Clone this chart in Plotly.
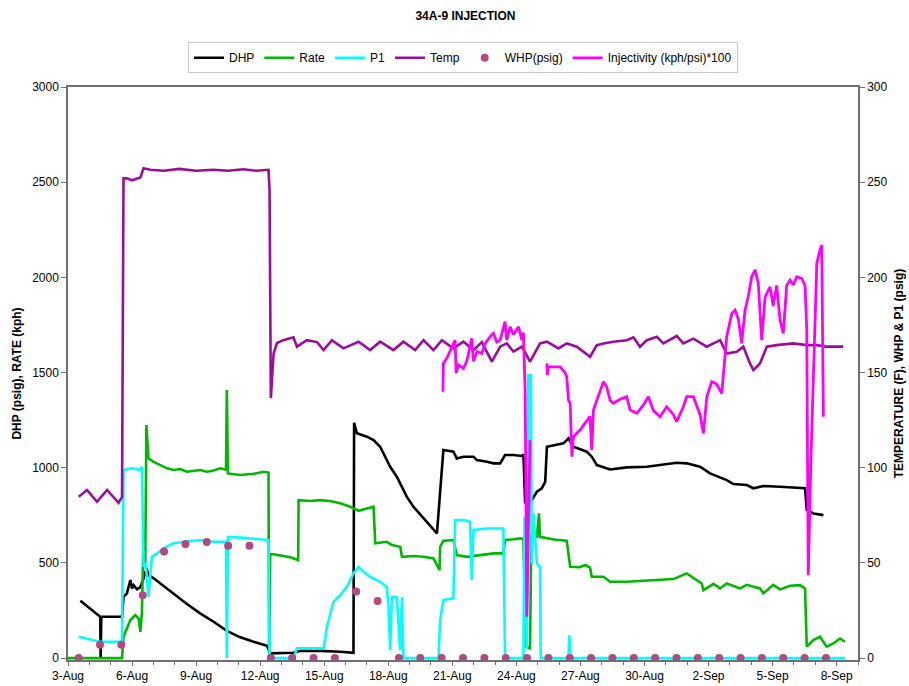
import pandas as pd
import plotly.graph_objects as go

START = pd.Timestamp("2008-08-03")
FONT = "Liberation Sans, Arial, sans-serif"

# ---- DHP (psig), left axis; x in days since 3-Aug ----
dhp_day = [0.58, 1.51, 1.53, 1.56, 2.53, 2.60, 2.76, 2.84, 2.92, 3.00, 3.07, 3.23, 3.39, 3.54,
           3.62, 3.70, 3.77, 4.01, 4.32, 4.94, 5.57, 6.19, 6.82, 7.44, 8.07, 8.69, 9.32, 9.47,
           9.94, 10.56, 10.88, 11.81, 12.75, 13.37, 13.40, 13.53, 14.00, 14.31, 14.62, 15.09,
           15.40, 15.56, 15.87, 16.18, 16.65, 17.12, 17.28, 17.58, 18.05, 18.21, 18.52, 18.99,
           19.15, 19.62, 19.93, 20.24, 20.47, 20.86, 21.26, 21.33, 21.41, 21.72, 21.96, 22.19,
           22.35, 22.43, 22.89, 23.20, 23.36, 23.44, 23.67, 24.30, 24.53, 24.77, 25.39, 26.17,
           27.11, 27.73, 28.51, 28.98, 29.60, 30.07, 30.85, 31.16, 31.79, 32.10, 32.57, 33.35,
           33.97, 34.52, 34.60, 34.91, 35.38]
dhp_val = [301, 217, 0, 217, 217, 322, 340, 375, 410, 366, 383, 361, 373, 419,
           453, 462, 436, 419, 392, 340, 284, 235, 191, 143, 109, 86, 65, 25,
           25, 28, 38, 38, 33, 28, 1236, 1181, 1163, 1145, 1110, 1005,
           953, 918, 847, 795, 734, 673, 655, 1093, 1084, 1049, 1058, 1058,
           1040, 1031, 1023, 1023, 1067, 1067, 1062, 1070, 820, 830, 874, 892,
           926, 1110, 1119, 1128, 1145, 1154, 1110, 1084, 1058, 1014, 991, 1002,
           1005, 1014, 1026, 1023, 1005, 970, 935, 914, 909, 892, 904, 900,
           897, 892, 778, 760, 751]

# ---- Rate (kph), left axis ----
rate_day = [0.0, 2.53, 2.60, 2.76, 2.92, 3.15, 3.31, 3.39, 3.46, 3.54, 3.62, 3.67, 3.77, 4.01,
            4.32, 4.64, 4.94, 5.26, 5.57, 5.88, 6.19, 6.51, 6.82, 7.13, 7.40, 7.44, 7.49, 8.07,
            8.69, 9.16, 9.39, 9.42, 9.47, 9.63, 9.94, 10.41, 10.78, 10.80, 11.34, 11.81, 12.28,
            12.75, 13.22, 13.61, 14.00, 14.31, 14.39, 14.93, 15.17, 15.56, 15.64, 16.18, 16.65,
            17.12, 17.40, 17.43, 17.58, 18.05, 18.21, 18.68, 19.30, 19.93, 20.39, 20.47, 20.86,
            21.18, 21.33, 21.45, 21.64, 21.70, 21.96, 22.06, 22.10, 22.43, 22.89, 23.05, 23.36,
            23.52, 23.98, 24.22, 24.45, 24.53, 25.08, 25.39, 26.17, 26.95, 27.73, 28.35, 28.98,
            29.45, 29.68, 29.76, 30.23, 30.54, 30.85, 31.48, 31.79, 32.41, 32.57, 33.03, 33.35,
            33.82, 34.28, 34.52, 34.60, 34.91, 35.22, 35.53, 35.84, 36.16, 36.39]
rate_val = [0, 0, 112, 156, 200, 226, 208, 138, 236, 655, 500, 1224, 1049, 1031,
            1014, 997, 988, 993, 979, 985, 988, 979, 985, 997, 990, 1408, 970, 962,
            968, 979, 975, 0, 550, 546, 541, 530, 515, 830, 825, 830, 825,
            813, 795, 774, 786, 795, 603, 611, 594, 585, 532, 536, 532,
            524, 462, 585, 616, 620, 541, 532, 541, 550, 550, 620, 624,
            629, 625, 60, 51, 640, 637, 760, 637, 629, 620, 620, 615,
            480, 478, 489, 475, 427, 427, 401, 401, 406, 410, 415, 445,
            410, 392, 357, 390, 366, 392, 366, 385, 366, 340, 385, 361,
            380, 383, 366, 60, 95, 112, 60, 77, 103, 86]

# ---- P1 (psig), right axis ----
p1_day = [0.50, 0.89, 1.51, 2.53, 2.60, 3.00, 3.39, 3.46, 3.54, 3.62, 3.70, 3.77, 3.85, 3.93,
          4.17, 4.48, 4.94, 5.57, 6.19, 6.82, 7.40, 7.44, 7.49, 8.07, 8.69, 9.39, 9.44, 9.63,
          10.56, 10.72, 11.50, 11.97, 12.13, 12.43, 12.75, 13.06, 13.37, 13.61, 13.84, 14.15,
          14.62, 14.93, 15.01, 15.09, 15.17, 15.40, 15.56, 15.64, 15.71, 17.35, 17.43, 17.58,
          18.05, 18.13, 18.52, 18.83, 18.91, 18.99, 19.62, 20.39, 20.47, 21.33, 21.38, 21.49,
          21.56, 21.68, 21.72, 21.80, 21.96, 22.11, 22.14, 23.44, 23.48, 23.55, 36.39]
p1_val = [11.2, 10.3, 8.6, 8.6, 98.8, 99.7, 98.8, 100.5, 48, 50, 42.7, 32.2, 42, 53.2,
          55, 57.6, 60.3, 61.1, 62, 61.1, 61.1, 0, 63.7, 63.3, 62.7, 62, 0, 0,
          0, 5.1, 5, 5.1, 16.5, 29.5, 33, 37.5, 44.5, 48, 45.3, 42.7,
          40.1, 37.5, 27, 4.2, 32.2, 32, 4.2, 32, 0, 0, 20, 30.5,
          31.4, 72.5, 72.5, 71.6, 41, 67.3, 68.1, 68.1, 0, 0, 74.2, 5,
          148.7, 148.7, 49.7, 76, 49.7, 48, 0, 0, 12, 0, 0]

# ---- Temperature (F), right axis ----
temp_day = [0.50, 0.89, 1.36, 1.83, 2.37, 2.53, 2.60, 2.76, 3.00, 3.23, 3.39, 3.54, 3.85, 4.50,
            5.20, 6.00, 6.80, 7.50, 8.20, 8.80, 9.39, 9.44, 9.50, 9.63, 9.79, 10.08, 10.56,
            10.72, 11.19, 11.66, 11.97, 12.36, 12.90, 13.61, 14.15, 14.62, 15.24, 15.71, 16.26,
            16.65, 17.12, 17.51, 18.05, 18.52, 18.99, 19.38, 19.85, 20.24, 20.55, 20.86, 21.26,
            21.64, 22.11, 22.43, 22.97, 23.36, 23.83, 24.45, 24.77, 25.08, 25.54, 26.17, 26.48,
            26.79, 27.11, 27.58, 27.88, 28.51, 28.82, 29.29, 29.92, 30.54, 30.85, 31.32, 31.63,
            31.94, 32.10, 32.41, 32.73, 33.19, 33.97, 34.60, 35.07, 35.53, 36.31]
temp_val = [84.7, 88.3, 82.1, 88.3, 81.6, 84.7, 252, 252, 251, 252, 252.5, 257.3, 256.5, 256,
            257, 256, 256.5, 256, 256.8, 256, 256.5, 246, 136.6, 160, 165.5, 167, 168.5,
            163.6, 167, 166, 161.8, 167, 162.7, 166.2, 161.8, 166.2, 161.8, 166.2, 161.8,
            167, 161.8, 167, 162.7, 166.2, 161.8, 166, 155.7, 163.6, 165.3, 161, 163.6,
            155.7, 165.3, 166.2, 162.7, 165.3, 163.6, 158.3, 164.4, 165.3, 166.2, 167, 168.5,
            163.6, 167, 168.8, 165.3, 169.2, 165.3, 167.8, 163.6, 167, 160, 160.9, 163.6,
            154.8, 151.3, 154.8, 163.6, 164.4, 165.3, 164.4, 164.4, 163.6, 163.6]

# ---- WHP (psig), daily noon readings, right axis ----
whp_day = [0.5, 1.5, 2.5, 3.5, 4.5, 5.5, 6.5, 7.5, 8.5, 9.5, 10.5, 11.5, 12.5, 13.5, 14.5,
           15.5, 16.5, 17.5, 18.5, 19.5, 20.5, 21.5, 22.5, 23.5, 24.5, 25.5, 26.5, 27.5,
           28.5, 29.5, 30.5, 31.5, 32.5, 33.5, 34.5, 35.5]
whp_val = [0, 7, 7, 33, 56, 60, 61, 59, 59, 0, 0, 0, 0, 35, 30,
           0, 0, 0, 0, 0, 0, 0, 0, 0, 0, 0, 0, 0,
           0, 0, 0, 0, 0, 0, 0, 0]

# ---- Injectivity (kph/psi)*100, right axis (None = no data) ----
inj_day = [17.56, 17.58, 17.74, 18.13, 18.18, 18.29, 18.52, 18.68, 18.83, 18.91, 18.99, 19.15,
           19.38, 19.54, 19.77, 19.93, 20.08, 20.24, 20.47, 20.55, 20.71, 20.86, 21.10, 21.26,
           21.33, 21.41, 21.49, 21.64, 22.00, 22.43, 22.45, 22.50, 23.05, 23.28, 23.36, 23.44,
           23.52, 23.60, 23.67, 23.98, 24.30, 24.45, 24.53, 24.61, 24.77, 24.92, 25.08, 25.23,
           25.39, 25.54, 25.86, 26.17, 26.33, 26.64, 26.95, 27.18, 27.42, 27.73, 28.04, 28.35,
           28.51, 28.82, 28.98, 29.29, 29.45, 29.60, 29.76, 29.92, 30.15, 30.38, 30.62, 30.69,
           30.85, 31.09, 31.24, 31.40, 31.55, 31.71, 31.86, 32.02, 32.18, 32.33, 32.49, 32.65,
           32.88, 33.03, 33.19, 33.35, 33.50, 33.66, 33.82, 33.97, 34.13, 34.36, 34.52, 34.60,
           34.67, 34.79, 34.91, 35.07, 35.22, 35.30, 35.38]
inj_val = [139.9, 154.8, 157.5, 167, 149.7, 154, 152.2, 156, 163.6, 168, 156, 161,
           160, 165.3, 168.8, 170.6, 166, 167, 176.7, 167, 174, 170, 174, 167,
           171, 140.8, 21.7, 114.5, None, 154.8, 148.7, 153, 153, 150, 147.8, 135.5,
           133.9, 105.8, 116.3, 119.8, 125, 127, 109.3, 130.3, 135.5, 140.8, 145.2, 142.5,
           135.5, 133.9, 136, 137.3, 130.3, 128.6, 133, 137.3, 130, 126.8, 132, 128,
           124.2, 132, 137.3, 137.3, 132, 128, 118, 137.3, 145.2, 144, 139, 149.6,
           168.8, 181.1, 182.8, 178, 165.3, 182.8, 189.8, 200.3, 203.9, 196.9, 167, 189.8,
           195, 185, 195.8, 177.6, 170.6, 195.8, 198.6, 196, 200.3, 199.5, 195.8, 172.3,
           43.6, 102.3, 144.3, 207.4, 214.4, 217, 126.8]

# ---- axis ticks ----
x_tick_day = [0, 3, 6, 9, 12, 15, 18, 21, 24, 27, 30, 33, 36]
x_tick_text = ["3-Aug", "6-Aug", "9-Aug", "12-Aug", "15-Aug", "18-Aug", "21-Aug",
               "24-Aug", "27-Aug", "30-Aug", "2-Sep", "5-Sep", "8-Sep"]
left_ticks = [0, 500, 1000, 1500, 2000, 2500, 3000]
right_ticks = [0, 50, 100, 150, 200, 250, 300]


def to_time(days):
    return [START + pd.Timedelta(days=d) for d in days]


fig = go.Figure()
fig.add_trace(go.Scatter(x=to_time(dhp_day), y=dhp_val, name="DHP", mode="lines",
                         line=dict(color="#000000", width=2.6)))
fig.add_trace(go.Scatter(x=to_time(rate_day), y=rate_val, name="Rate", mode="lines",
                         line=dict(color="#00B800", width=2.6)))
fig.add_trace(go.Scatter(x=to_time(p1_day), y=p1_val, name="P1", mode="lines", yaxis="y2",
                         line=dict(color="#00FFFF", width=2.6)))
fig.add_trace(go.Scatter(x=to_time(temp_day), y=temp_val, name="Temp", mode="lines", yaxis="y2",
                         line=dict(color="#9C0C9C", width=2.6)))
fig.add_trace(go.Scatter(x=to_time(whp_day), y=whp_val, name="WHP(psig)", mode="markers",
                         yaxis="y2", cliponaxis=False,
                         marker=dict(color="#B04A82", size=8)))
fig.add_trace(go.Scatter(x=to_time(inj_day), y=inj_val, name="Injectivity (kph/psi)*100",
                         mode="lines", yaxis="y2", connectgaps=False,
                         line=dict(color="#FF00FF", width=2.8)))

axis_line = "#707070"
tick_font = dict(family=FONT, size=12, color="#000000")

fig.update_layout(
    width=909, height=686,
    margin=dict(l=68, r=51, t=87, b=26, pad=0),
    paper_bgcolor="white", plot_bgcolor="white",
    font=dict(family=FONT, size=12, color="#000000"),
    title=dict(text="<b>34A-9 INJECTION</b>", x=0.512, xanchor="center",
               y=1 - 16 / 686, yanchor="middle", font=dict(family=FONT, size=12)),
    showlegend=True,
    legend=dict(orientation="h", x=0.5, xanchor="center", y=1.078, yanchor="top",
                bordercolor="#C8C8C8", borderwidth=1, bgcolor="white",
                font=dict(family=FONT, size=12), itemwidth=30, tracegroupgap=0),
    xaxis=dict(
        type="date", automargin=False,
        range=[START, START + pd.Timedelta(days=37)],
        tickvals=to_time(x_tick_day), ticktext=x_tick_text,
        ticks="outside", ticklen=4, tickcolor=axis_line,
        minor=dict(dtick=86400000, tick0=START, ticks="outside", ticklen=3, tickcolor=axis_line),
        showline=True, linecolor=axis_line, linewidth=1.5, mirror=True,
        showgrid=False, zeroline=False, tickfont=tick_font,
    ),
    yaxis=dict(
        automargin=False,
        range=[-10, 3000], tickvals=left_ticks,
        ticks="outside", ticklen=5, tickcolor=axis_line,
        showline=True, linecolor=axis_line, linewidth=1.5,
        showgrid=False, zeroline=False, tickfont=tick_font,
        title=dict(text="<b>DHP (psig), RATE (kph)</b>", standoff=8,
                   font=dict(family=FONT, size=12)),
    ),
    yaxis2=dict(
        automargin=False,
        overlaying="y", side="right", anchor="x",
        range=[-1, 300], tickvals=right_ticks,
        ticks="outside", ticklen=5, tickcolor=axis_line,
        showline=True, linecolor=axis_line, linewidth=1.5,
        showgrid=False, zeroline=False, tickfont=tick_font,
        title=dict(text="<b>TEMPERATURE (F), WHP & P1 (psig)</b>", standoff=8,
                   font=dict(family=FONT, size=12)),
    ),
)

fig.write_html("out.html")
